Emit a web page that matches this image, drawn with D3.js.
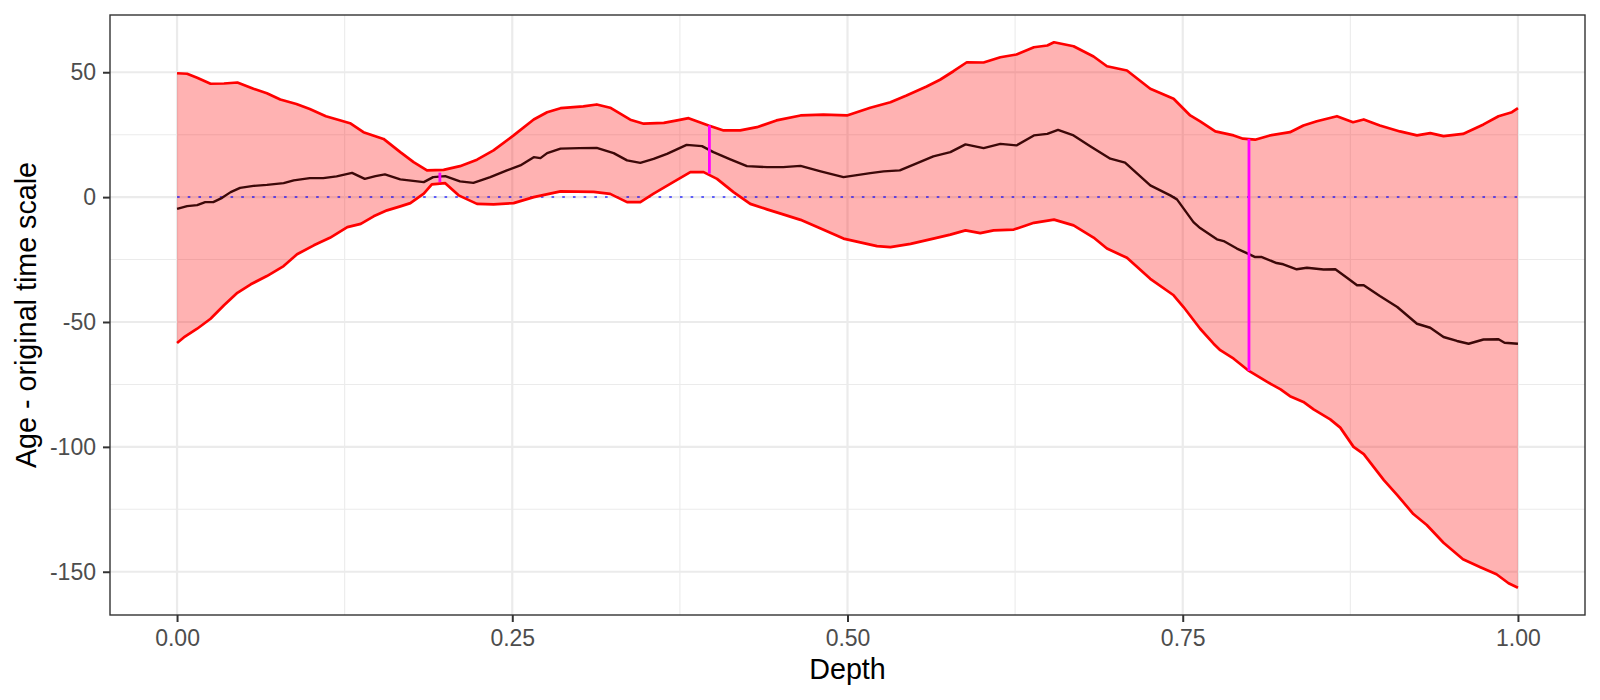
<!DOCTYPE html>
<html>
<head>
<meta charset="utf-8">
<script src="https://cdn.jsdelivr.net/npm/d3@7"></script>
<style>
    body { margin: 0; background: #fff; }
    text { font-family: "Liberation Sans", Arial, sans-serif; }
</style>
</head>
<body>
<svg></svg>
<script>
// upper bound of the age envelope
const upperDepth = [0, 0.0075, 0.015, 0.025, 0.035, 0.045, 0.057, 0.067, 0.077, 0.089, 0.099, 0.111, 0.122, 0.129, 0.139, 0.154, 0.1665, 0.1764, 0.1864, 0.1988, 0.211, 0.2237, 0.236, 0.251, 0.266, 0.276, 0.286, 0.303, 0.313, 0.323, 0.338, 0.348, 0.363, 0.373, 0.3815, 0.3964, 0.4076, 0.42, 0.4325, 0.447, 0.465, 0.482, 0.4996, 0.517, 0.532, 0.544, 0.559, 0.569, 0.579, 0.589, 0.6015, 0.614, 0.626, 0.639, 0.649, 0.654, 0.6686, 0.6835, 0.6935, 0.7084, 0.7258, 0.7432, 0.7556, 0.763, 0.7743, 0.788, 0.795, 0.804, 0.815, 0.83, 0.84, 0.85, 0.865, 0.877, 0.885, 0.897, 0.912, 0.9247, 0.9346, 0.9445, 0.959, 0.9743, 0.9855, 0.9955, 1]
const upperAge = [49.6, 49.4, 47.8, 45.4, 45.5, 45.9, 43.4, 41.6, 39.1, 37.3, 35.3, 32.4, 30.7, 29.6, 26, 23.3, 18, 14, 10.7, 10.9, 12.4, 15, 18.7, 24.7, 31.1, 34, 35.6, 36.3, 37.1, 35.8, 31, 29.4, 29.7, 30.7, 31.6, 28.7, 26.7, 26.7, 28, 30.7, 32.7, 33, 32.7, 35.8, 38, 40.7, 44.3, 47, 50.4, 54, 53.9, 56, 57.1, 60, 60.7, 62, 60.4, 56.3, 52.4, 50.7, 43.4, 39.4, 32.7, 30.3, 26.3, 24.7, 23.4, 23, 24.7, 26, 28.7, 30.4, 32.4, 30, 31.1, 28.7, 26.3, 24.7, 25.6, 24.4, 25.3, 29.1, 32.4, 34, 35.6]

// central estimate
const midDepth = [0, 0.0075, 0.015, 0.021, 0.027, 0.0336, 0.04, 0.047, 0.057, 0.067, 0.0795, 0.087, 0.099, 0.109, 0.119, 0.1305, 0.14, 0.148, 0.155, 0.1665, 0.184, 0.191, 0.2, 0.211, 0.221, 0.2336, 0.246, 0.256, 0.266, 0.271, 0.276, 0.286, 0.3, 0.313, 0.3256, 0.3356, 0.3455, 0.3554, 0.3654, 0.38, 0.3915, 0.4, 0.4126, 0.425, 0.44, 0.452, 0.465, 0.48, 0.497, 0.517, 0.527, 0.539, 0.552, 0.564, 0.5767, 0.588, 0.6015, 0.614, 0.626, 0.639, 0.649, 0.657, 0.6686, 0.681, 0.696, 0.707, 0.7258, 0.7407, 0.7457, 0.758, 0.763, 0.7755, 0.7805, 0.7904, 0.799, 0.804, 0.809, 0.82, 0.825, 0.835, 0.8426, 0.855, 0.8638, 0.8725, 0.88, 0.885, 0.897, 0.91, 0.9247, 0.9346, 0.9445, 0.9545, 0.9632, 0.9743, 0.9855, 0.99, 1]
const midAge = [-4.7, -3.6, -3.2, -2, -2, -0.3, 2, 3.7, 4.5, 4.9, 5.6, 6.7, 7.6, 7.6, 8.3, 9.7, 7.3, 8.4, 9.1, 7.1, 6, 8, 8.4, 6.3, 5.7, 8, 10.7, 12.7, 16, 15.6, 17.6, 19.4, 19.6, 19.7, 17.6, 14.7, 13.7, 15.3, 17.3, 20.9, 20.4, 18, 15.1, 12.4, 12, 12, 12.5, 10.3, 8, 9.6, 10.3, 10.7, 13.6, 16.3, 18, 21.1, 19.6, 21.3, 20.7, 24.7, 25.3, 26.9, 24.7, 20.4, 15.4, 13.8, 4.7, 0.7, -0.9, -10, -12.4, -16.9, -17.6, -20.6, -22.7, -24, -24, -26.4, -26.9, -28.9, -28.3, -29, -28.9, -32.3, -35.3, -35.3, -39.6, -44, -50.7, -52.3, -56, -57.6, -58.7, -57, -56.9, -58.3, -58.7]

// lower bound of the age envelope
const lowerDepth = [0, 0.005, 0.015, 0.025, 0.035, 0.045, 0.055, 0.067, 0.0795, 0.0895, 0.102, 0.114, 0.127, 0.137, 0.1466, 0.1566, 0.1665, 0.174, 0.184, 0.19, 0.2, 0.21, 0.2237, 0.236, 0.251, 0.266, 0.286, 0.3107, 0.323, 0.3356, 0.3455, 0.3554, 0.37, 0.3828, 0.3927, 0.4027, 0.415, 0.4275, 0.44, 0.452, 0.465, 0.48, 0.497, 0.522, 0.532, 0.547, 0.564, 0.5767, 0.588, 0.599, 0.609, 0.624, 0.639, 0.654, 0.6686, 0.6835, 0.6935, 0.7084, 0.7258, 0.7432, 0.7506, 0.763, 0.773, 0.778, 0.788, 0.7994, 0.813, 0.823, 0.83, 0.84, 0.8476, 0.86, 0.8675, 0.8774, 0.885, 0.9, 0.91, 0.922, 0.932, 0.9445, 0.959, 0.972, 0.984, 0.993, 1]
const lowerAge = [-58.4, -56.2, -52.7, -48.7, -43.3, -38.3, -34.9, -31.6, -27.6, -22.9, -19.3, -16.3, -12, -10.7, -7.7, -5.3, -3.7, -2.4, 1.4, 5.1, 5.6, 0.7, -2.7, -2.9, -2.4, 0, 2.3, 2.1, 1.3, -2, -2, 1.4, 6, 10, 10, 7.3, 2, -2.7, -4.9, -6.9, -9.1, -12.6, -16.6, -19.6, -20, -18.7, -16.6, -15, -13.3, -14.4, -13.3, -13, -10.3, -9, -11.3, -16.2, -20.6, -24.3, -32.7, -39.3, -44, -52.7, -58.7, -61.3, -64.7, -69.6, -74, -77, -79.7, -82, -85, -89, -92.3, -100, -102.9, -113.3, -119.3, -126.9, -131.3, -138.4, -145, -148.2, -151, -154.6, -156.4]

// highlighted intervals
const markDepth = [0.196, 0.397, 0.7994]
const markTop = [9.8, 28.7, 23.3]
const markBottom = [6.0, 9.4, -69.6]

const xTicks = [0, 0.25, 0.5, 0.75, 1]
const xMinor = [0.125, 0.375, 0.625, 0.875]
const yTicks = [-150, -100, -50, 0, 50]
const yMinor = [-125, -75, -25, 25]


document.addEventListener("DOMContentLoaded", function(event) {
    drawChart()
})


function pairs(xs, ys) {
    return xs.map((x, i) => ({ depth: x, age: ys[i] }))
}


function drawChart() {
    let
        svgWidth = 1600,
        svgHeight = 700,
        margin = { top: 15, right: 15, bottom: 85, left: 110 },
        left = margin.left,
        right = svgWidth - margin.right,
        top = margin.top,
        bottom = svgHeight - margin.bottom

    let upper = pairs(upperDepth, upperAge)
    let mid = pairs(midDepth, midAge)
    let lower = pairs(lowerDepth, lowerAge)

    let svg = d3.select("svg")
        .attr("width", svgWidth)
        .attr("height", svgHeight)

    // ggplot style 5% expansion on both axes
    let xExt = [0, 1]
    let xPad = (xExt[1] - xExt[0]) * 0.05
    let x_scale = d3.scaleLinear()
        .domain([xExt[0] - xPad, xExt[1] + xPad])
        .range([left, right])

    let allAges = upperAge.concat(lowerAge, midAge)
    let yExt = d3.extent(allAges)
    let yPad = (yExt[1] - yExt[0]) * 0.05
    let y_scale = d3.scaleLinear()
        .domain([yExt[0] - yPad, yExt[1] + yPad])
        .range([bottom, top])

    // grid
    let grid = svg.append("g")
    grid.selectAll(".ymin").data(yMinor).join("line")
        .attr("x1", left).attr("x2", right)
        .attr("y1", d => y_scale(d)).attr("y2", d => y_scale(d))
        .attr("stroke", "#ebebeb").attr("stroke-width", 1.1)
    grid.selectAll(".xmin").data(xMinor).join("line")
        .attr("y1", top).attr("y2", bottom)
        .attr("x1", d => x_scale(d)).attr("x2", d => x_scale(d))
        .attr("stroke", "#ebebeb").attr("stroke-width", 1.1)
    grid.selectAll(".ymaj").data(yTicks).join("line")
        .attr("x1", left).attr("x2", right)
        .attr("y1", d => y_scale(d)).attr("y2", d => y_scale(d))
        .attr("stroke", "#ebebeb").attr("stroke-width", 2.2)
    grid.selectAll(".xmaj").data(xTicks).join("line")
        .attr("y1", top).attr("y2", bottom)
        .attr("x1", d => x_scale(d)).attr("x2", d => x_scale(d))
        .attr("stroke", "#ebebeb").attr("stroke-width", 2.2)

    let line = d3.line()
        .x(d => x_scale(d.depth))
        .y(d => y_scale(d.age))

    // envelope: upper forward, lower backward
    svg.append("path")
        .datum(upper.concat(lower.slice().reverse()))
        .attr("fill", "red")
        .attr("fill-opacity", 0.3)
        .attr("stroke", "none")
        .attr("d", d => line(d) + "Z")

    svg.append("line")
        .attr("x1", x_scale(0)).attr("x2", x_scale(1))
        .attr("y1", y_scale(0)).attr("y2", y_scale(0))
        .attr("stroke", "blue")
        .attr("stroke-opacity", 0.6)
        .attr("stroke-width", 2)
        .attr("stroke-dasharray", "2.6,8.1")

    for (let s of [upper, lower]) {
        svg.append("path")
            .datum(s)
            .attr("fill", "none")
            .attr("stroke", "red")
            .attr("stroke-width", 2.7)
            .attr("stroke-linejoin", "round")
            .attr("d", line)
    }

    svg.append("path")
        .datum(mid)
        .attr("fill", "none")
        .attr("stroke", "#3c0808")
        .attr("stroke-width", 2.4)
        .attr("stroke-linejoin", "round")
        .attr("d", line)

    svg.append("g").selectAll("line")
        .data(markDepth)
        .join("line")
        .attr("x1", d => x_scale(d)).attr("x2", d => x_scale(d))
        .attr("y1", (d, i) => y_scale(markTop[i]))
        .attr("y2", (d, i) => y_scale(markBottom[i]))
        .attr("stroke", "#ff00ff")
        .attr("stroke-width", 2.8)

    // panel border
    svg.append("rect")
        .attr("x", left).attr("y", top)
        .attr("width", right - left).attr("height", bottom - top)
        .attr("fill", "none")
        .attr("stroke", "#333333")
        .attr("stroke-width", 1.4)

    let xAxis = svg.append("g")
        .attr("transform", `translate(0, ${bottom})`)
        .call(d3.axisBottom(x_scale).tickValues(xTicks).tickFormat(d3.format(".2f"))
            .tickSize(7).tickPadding(8))
    let yAxis = svg.append("g")
        .attr("transform", `translate(${left}, 0)`)
        .call(d3.axisLeft(y_scale).tickValues(yTicks).tickFormat(d => String(d))
            .tickSize(7).tickPadding(7))

    for (let ax of [xAxis, yAxis]) {
        ax.select(".domain").remove()
        ax.selectAll(".tick line").attr("stroke", "#333333").attr("stroke-width", 2)
        ax.selectAll(".tick text")
            .attr("fill", "#4d4d4d")
            .attr("font-family", "Liberation Sans, Arial, sans-serif")
            .attr("font-size", 23)
    }

    svg.append("text")
        .text("Depth")
        .attr("x", (left + right) / 2)
        .attr("y", 679)
        .attr("text-anchor", "middle")
        .attr("font-size", 28.7)
        .attr("fill", "#000")

    svg.append("text")
        .text("Age - original time scale")
        .attr("transform", `translate(35.5, ${(top + bottom) / 2}) rotate(-90)`)
        .attr("text-anchor", "middle")
        .attr("font-size", 28.7)
        .attr("fill", "#000")
}
</script>
</body>
</html>
